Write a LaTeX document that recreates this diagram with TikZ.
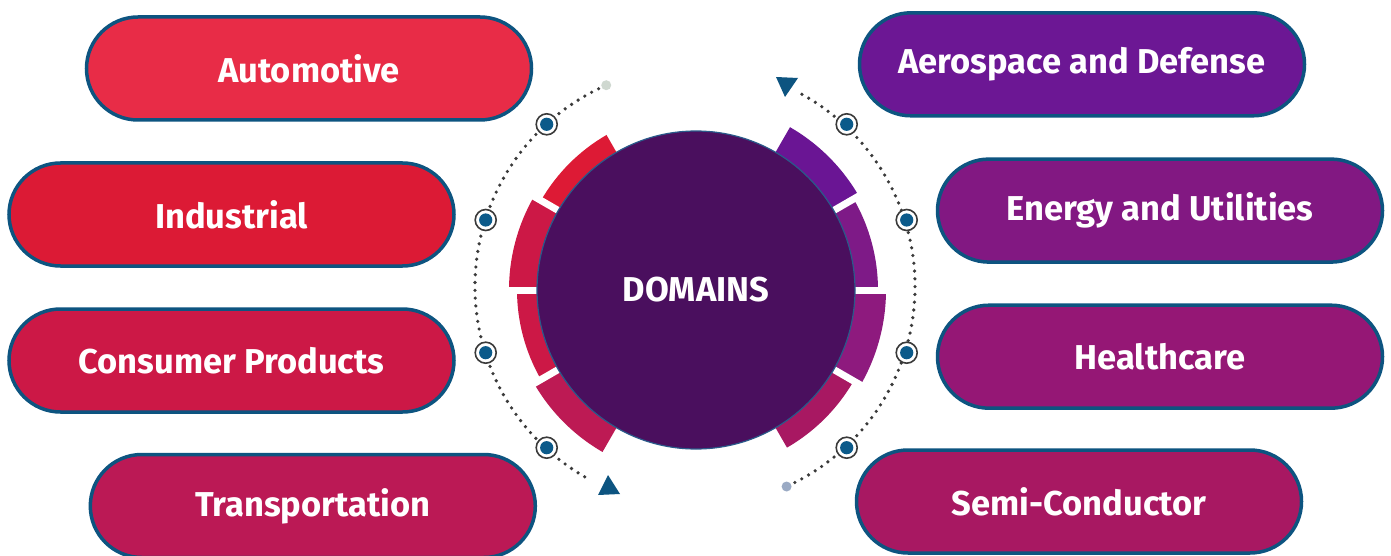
\documentclass[tikz,border=0pt]{standalone}
\usepackage{fontspec}
\setmainfont{Fira Sans}
\usetikzlibrary{calc}
\definecolor{pillborder}{HTML}{0D5480}
\definecolor{cAuto}{HTML}{E82C47}
\definecolor{cInd}{HTML}{DC1A35}
\definecolor{cCons}{HTML}{CC1846}
\definecolor{cTrans}{HTML}{BB1955}
\definecolor{cAero}{HTML}{6C1794}
\definecolor{cEnergy}{HTML}{821882}
\definecolor{cHealth}{HTML}{951775}
\definecolor{cSemi}{HTML}{A81862}
\definecolor{sTL}{HTML}{DD1A35}
\definecolor{sUL}{HTML}{CC1846}
\definecolor{sLL}{HTML}{CC1846}
\definecolor{sBL}{HTML}{BD1A54}
\definecolor{sTR}{HTML}{6A1594}
\definecolor{sUR}{HTML}{7E1A87}
\definecolor{sLR}{HTML}{8E1A7E}
\definecolor{sBR}{HTML}{A81862}
\definecolor{hub}{HTML}{4A0F5E}
\definecolor{hubline}{HTML}{2A5A8A}
\definecolor{dotgrey}{HTML}{3A3A3A}
\definecolor{markblue}{HTML}{0B5A8A}
\definecolor{startgreen}{HTML}{CFD8D0}
\definecolor{startblue}{HTML}{9AAAC4}
\tikzset{
  pill/.style={draw=pillborder, line width=3.5pt, rounded corners=51.5pt,
    minimum width=445pt, minimum height=103pt, inner sep=0pt,
    text=white, font=\fontsize{34.5}{40}\selectfont\bfseries},
  dotline/.style={draw=dotgrey, line width=3.6pt, line cap=round, dash pattern=on 0pt off 7.8pt},
  marker/.style={circle, draw=dotgrey, line width=1.6pt, fill=white, minimum size=21pt, inner sep=0pt,
    path picture={\fill[markblue] (path picture bounding box.center) circle (6.6pt);}},
  gapline/.style={white, line width=7pt},
  arrowtri/.style={fill=pillborder},
}
\begin{document}
\begin{tikzpicture}[x=1pt, y=-1pt]
\useasboundingbox (0,0) rectangle (1391,556);
\fill[white] (0,0) rectangle (1391,556);

% centres
\coordinate (c) at (696,290);
\coordinate (ac) at (695,286.5);

% segments
\foreach \a/\b/\r/\col in {120/150/179/sTL, 150/180/187/sUL, 180/210/179/sLL, 210/240/187/sBL,
                           30/60/188/sTR, 0/30/182/sUR, -30/0/190/sLR, -60/-30/182/sBR}{
  \fill[\col] (c) -- ($(c)+(\a:\r pt)$) arc[start angle=\a, end angle=\b, radius=\r pt] -- cycle;
}
\foreach \a in {150,180,210,0,30,-30}{
  \draw[gapline] (c) -- ($(c)+(\a:200pt)$);
}

% hub
\node[circle, fill=hub, draw=hubline, line width=1.2pt, minimum size=318pt, inner sep=0pt,
  text=white, font=\fontsize{34.5}{40}\selectfont\bfseries] (hubnode) at (c) {DOMAINS};

% dotted arcs
\coordinate (ls) at ($(ac)+(113.8:220pt)$);
\coordinate (re) at ($(ac)+(-65.4:220pt)$);
\draw[dotline] ($(ac)+(116:220pt)$) arc[start angle=116, end angle=241.5, radius=220pt];
\draw[dotline] ($(ac)+(-63:220pt)$) arc[start angle=-63, end angle=62.5, radius=220pt];
\fill[startgreen] (ls) circle (5pt);
\fill[startblue] (re) circle (5pt);

% arrow triangles
\coordinate (t1a) at (598,495); \coordinate (t1b) at (620,494); \coordinate (t1c) at (608,475);
\fill[arrowtri] (t1a) -- (t1b) -- (t1c) -- cycle;
\coordinate (t2a) at (776,77); \coordinate (t2b) at (798,78); \coordinate (t2c) at (785,97);
\fill[arrowtri] (t2a) -- (t2b) -- (t2c) -- cycle;

% markers
\node[marker] (m1) at (546.7,124.3) {};
\node[marker] (m2) at (485.7,220) {};
\node[marker] (m3) at (485.7,352.7) {};
\node[marker] (m4) at (546.7,447.7) {};
\node[marker] (m5) at (846.7,124.3) {};
\node[marker] (m6) at (906.7,220) {};
\node[marker] (m7) at (906.7,352.7) {};
\node[marker] (m8) at (846.7,447.7) {};

% pills
\node[pill, fill=cAuto] (auto) at (309,68.5) {Automotive};
\node[pill, fill=cInd] (ind) at (231.5,214.5) {Industrial};
\node[pill, fill=cCons] (cons) at (231.5,360.5) {Consumer Products};
\node[pill, fill=cTrans] (trans) at (312.8,506) {Transportation};
\node[pill, fill=cAero] (aero) at (1082,64.3) {Aerospace and Defense};
\node[pill, fill=cEnergy] (energy) at (1160,210.6) {Energy and Utilities};
\node[pill, fill=cHealth] (health) at (1160,356.7) {Healthcare};
\node[pill, fill=cSemi] (semi) at (1079,501.5) {Semi-Conductor};
\end{tikzpicture}
\end{document}
